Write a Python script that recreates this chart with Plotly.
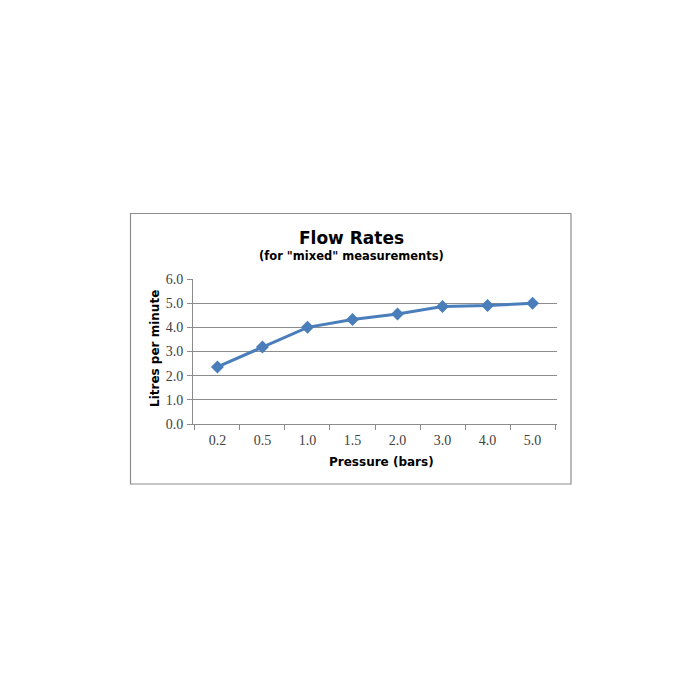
import plotly.graph_objects as go

pressure = ["0.2", "0.5", "1.0", "1.5", "2.0", "3.0", "4.0", "5.0"]
flow = [2.36, 3.19, 4.0, 4.32, 4.55, 4.86, 4.9, 5.0]
y_ticks = [0, 1, 2, 3, 4, 5, 6]
y_labels = ["0.0", "1.0", "2.0", "3.0", "4.0", "5.0", "6.0"]

L, R, T, B = 193, 557, 279, 424
W = H = 700
pw, ph = R - L, B - T

def px(x):
    return (x - L) / pw

def py(y):
    return (B - y) / ph

fig = go.Figure()
fig.add_trace(go.Scatter(
    x=pressure, y=flow, mode="lines+markers",
    line=dict(color="#4a7ebb", width=3),
    marker=dict(symbol="diamond", size=10, color="#4a7ebb"),
    showlegend=False,
))

tick_font = dict(family="Liberation Serif", size=14, color="#404040")

fig.update_layout(
    width=W, height=H,
    margin=dict(l=L, r=W - R, t=T, b=H - B),
    paper_bgcolor="white", plot_bgcolor="white",
    xaxis=dict(
        type="category", tickson="boundaries", ticks="outside", ticklen=5,
        tickcolor="#8c8c8c", showgrid=False, showline=True, linecolor="#8c8c8c",
        linewidth=1, tickfont=tick_font, ticklabelstandoff=3,
        zeroline=False,
    ),
    yaxis=dict(
        range=[0, 6], tickvals=y_ticks, ticktext=y_labels, showgrid=True,
        gridcolor="#8c8c8c", gridwidth=1, showline=True, linecolor="#8c8c8c",
        ticks="outside", ticklen=5, tickcolor="#8c8c8c", zeroline=False,
        tickfont=tick_font, ticklabelstandoff=1,
    ),
    shapes=[dict(type="rect", xref="paper", yref="paper",
                 x0=px(130.5), x1=px(571), y0=py(484), y1=py(213.5),
                 line=dict(color="#8c8c8c", width=1.2), fillcolor="rgba(0,0,0,0)",
                 layer="below")],
    annotations=[
        dict(text="<b>Flow Rates</b>", xref="paper", yref="paper", x=px(351), y=py(238),
             showarrow=False, font=dict(family="DejaVu Sans", size=17, color="black"),
             xanchor="center", yanchor="middle"),
        dict(text='<b>(for "mixed" measurements)</b>', xref="paper", yref="paper",
             x=px(351), y=py(256), showarrow=False,
             font=dict(family="DejaVu Sans", size=11.5, color="black"),
             xanchor="center", yanchor="middle"),
        dict(text="<b>Pressure (bars)</b>", xref="paper", yref="paper", x=px(381), y=py(462),
             showarrow=False, font=dict(family="DejaVu Sans", size=12, color="black"),
             xanchor="center", yanchor="middle"),
        dict(text="<b>Litres per minute</b>", xref="paper", yref="paper", x=px(155), y=py(349),
             showarrow=False, textangle=-90,
             font=dict(family="DejaVu Sans", size=12, color="black"),
             xanchor="center", yanchor="middle"),
    ],
)

fig.write_html("out.html")
